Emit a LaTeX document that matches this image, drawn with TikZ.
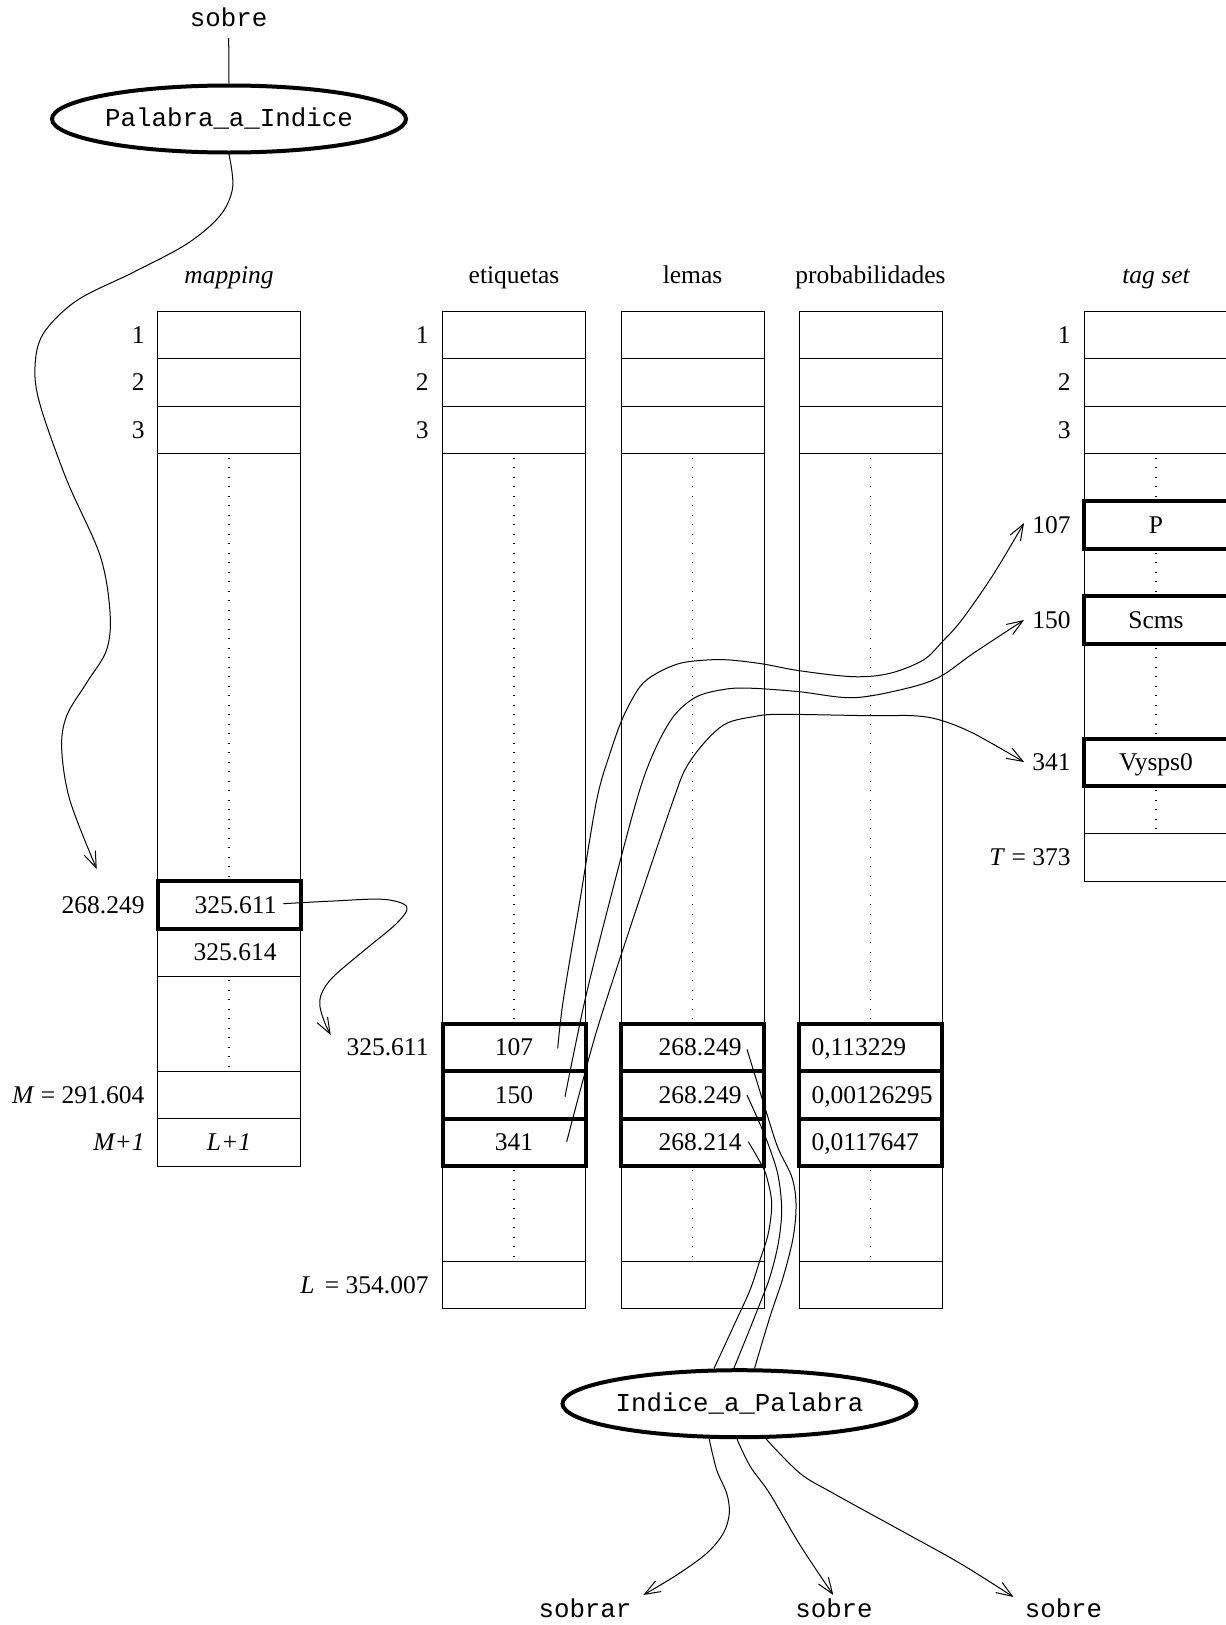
\documentclass[tikz,border=0pt]{standalone}
\usepackage{fontspec}
\setmainfont{Liberation Serif}
\setmonofont{Liberation Mono}
\usetikzlibrary{shapes.geometric,arrows.meta}
\newcommand\fsz{\fontsize{25.5pt}{30pt}\selectfont}
\newcommand\msz{\ttfamily\fontsize{25.8pt}{30pt}\selectfont}
\begin{document}
\begin{tikzpicture}[x=1pt,y=-1pt,line width=1pt,
  >={Straight Barb[length=16pt,width=12pt]},
  thk/.style={line width=4pt},
  dotln/.style={line width=1.3pt,dash pattern=on 1.3pt off 8.2pt,dash phase=-4pt},
  lab/.style={font=\fsz,inner sep=0pt,text height=17pt,text depth=0pt},
  itlab/.style={lab,font=\fsz\itshape},
  monolab/.style={font=\msz,inner sep=0pt,text height=15pt,text depth=0pt},
  ell/.style={ellipse,draw,line width=4pt,minimum width=354pt,minimum height=67pt,inner sep=0pt,font=\msz,text height=15pt,text depth=0pt},
  conn/.style={line width=1pt},
  arr/.style={conn,->},
  sm/.style={smooth,tension=0.55}]
\useasboundingbox (0,0) rectangle (1226,1625);
\clip (0,0) rectangle (1226,1625);

% ---------- mapping column ----------
\draw (157.5,311) rectangle (300.5,1166);
\foreach \y in {358.5,406,453.5,976,1071,1118.5} \draw (157.5,\y) -- (300.5,\y);
\draw[dotln] (229,453.5) -- (229,881);
\draw[dotln] (229,976) -- (229,1071);
\draw[thk] (157.5,881) rectangle (300.5,928.5);

% ---------- etiquetas, lemas, probabilidades ----------
\foreach \xl in {442.5,621,799}{
  \draw (\xl,311) rectangle ++(143,997.5);
  \foreach \y in {358.5,406,453.5,1261} \draw (\xl,\y) -- ++(143,0);
  \draw[dotln] (\xl+71.5,453.5) -- (\xl+71.5,1023.5);
  \draw[dotln] (\xl+71.5,1166) -- (\xl+71.5,1261);
  \foreach \y in {1023.5,1071,1118.5} \draw[thk] (\xl,\y) rectangle ++(143,47.5);
}

% ---------- tag set column ----------
\draw (1084,311) rectangle (1228,881);
\foreach \y in {358.5,406,453.5,833.5} \draw (1084,\y) -- (1228,\y);
\draw[dotln] (1156,453.5) -- (1156,501);
\draw[dotln] (1156,548.5) -- (1156,596);
\draw[dotln] (1156,643.5) -- (1156,738.5);
\draw[dotln] (1156,786) -- (1156,833.5);
\foreach \y in {501,596,738.5} \draw[thk] (1084,\y) rectangle ++(144,47.5);

% ---------- titles ----------
\node[itlab] (tmap) at (229,274.5) {mapping};
\node[lab] (teti) at (514,274.5) {etiquetas};
\node[lab] (tlem) at (692.5,274.5) {lemas};
\node[lab] (tpro) at (870.5,274.5) {probabilidades};
\node[itlab] (ttag) at (1156,274.5) {tag set};

% ---------- row labels ----------
\node[lab,anchor=east] (m1) at (145,334.75) {1};
\node[lab,anchor=east] (m2) at (145,382.25) {2};
\node[lab,anchor=east] (m3) at (145,429.75) {3};
\node[lab,anchor=east] (mw) at (145,904.75) {268.249};
\node[lab,anchor=east] (mM) at (145,1094.75) {\textit{M} = 291.604};
\node[lab,anchor=east] (mM1) at (145,1142.25) {\textit{M+1}};

\node[lab,anchor=east] (e1) at (429,334.75) {1};
\node[lab,anchor=east] (e2) at (429,382.25) {2};
\node[lab,anchor=east] (e3) at (429,429.75) {3};
\node[lab,anchor=east] (ei) at (429,1047.25) {325.611};
\node[lab,anchor=east] (eL) at (429,1284.75) {\textit{L}\hspace{4pt} = 354.007};

\node[lab,anchor=east] (g1) at (1071,334.75) {1};
\node[lab,anchor=east] (g2) at (1071,382.25) {2};
\node[lab,anchor=east] (g3) at (1071,429.75) {3};
\node[lab,anchor=east] (g107) at (1071,524.75) {107};
\node[lab,anchor=east] (g150) at (1071,619.75) {150};
\node[lab,anchor=east] (g341) at (1071,762.25) {341};
\node[lab,anchor=east] (gT) at (1071,857.25) {\textit{T} = 373};

% ---------- cell contents ----------
\node[lab,anchor=east] (mv1) at (277,904.75) {325.611};
\node[lab,anchor=east] (mv2) at (277,952.25) {325.614};
\node[itlab] (mv3) at (229,1142.25) {L+1};

\node[lab] (et1) at (514,1047.25) {107};
\node[lab] (et2) at (514,1094.75) {150};
\node[lab] (et3) at (514,1142.25) {341};

\node[lab,anchor=east] (le1) at (742,1047.25) {268.249};
\node[lab,anchor=east] (le2) at (742,1094.75) {268.249};
\node[lab,anchor=east] (le3) at (742,1142.25) {268.214};

\node[lab,anchor=west] (pr1) at (811,1047.25) {0,113229};
\node[lab,anchor=west] (pr2) at (811,1094.75) {0,00126295};
\node[lab,anchor=west] (pr3) at (811,1142.25) {0,0117647};

\node[lab] (tgP) at (1156,524.75) {P};
\node[lab] (tgS) at (1156,619.75) {Scms};
\node[lab] (tgV) at (1156,762.25) {Vysps0};

% ---------- ellipses and words ----------
\node[monolab] (wtop) at (228.7,19.2) {sobre};
\node[ell] (pai) at (229,119) {Palabra\_a\_Indice};
\node[ell] (ipa) at (739.5,1403.7) {Indice\_a\_Palabra};
\node[monolab] (wb1) at (585,1609.5) {sobrar};
\node[monolab] (wb2) at (834,1609.5) {sobre};
\node[monolab] (wb3) at (1063.5,1609.5) {sobre};

% ---------- connector end points ----------
\coordinate (tleft) at (96.7,869);
\coordinate (smv) at (283.3,903.7);
\coordinate (tmv) at (330.7,1035);
\coordinate (s107) at (557.7,1048.3);
\coordinate (s150) at (565,1096.7);
\coordinate (s341) at (566.7,1141.7);
\coordinate (t107) at (1024,523);
\coordinate (t150) at (1024,620);
\coordinate (t341) at (1024,762);
\coordinate (sa) at (747,1049.3);
\coordinate (sb) at (747,1095);
\coordinate (sc) at (748.3,1141.7);
\coordinate (tb1) at (643.3,1595);
\coordinate (tb2) at (833.3,1595);
\coordinate (tb3) at (1013.5,1597);

% ---------- connectors ----------
\draw[conn] ([yshift=-11pt]wtop.south) -- (pai.north);

\draw[arr] plot[sm] coordinates {(pai.south) (232.7,187.4) (220,215.7) (186.7,244) (133.3,272.3) (76.7,300.6) (43.3,333.6) (35,366.7) (40,404.4) (66.7,479.9) (100,555.3) (110,612) (106.7,649.7) (86.7,682.7) (66.7,715.7) (61.7,748.7) (70,800.6) (tleft)};

\draw[arr] plot[sm] coordinates {(smv) (333.3,901) (383.3,899.3) (406.7,906.7) (396.7,923.3) (366.7,948.3) (333.3,976.7) (321.7,993.3) (320,1006.7) (325,1023.3) (tmv)};

\draw[arr] plot[sm] coordinates {(s107) (563.3,1000) (580,900) (596.7,800) (610,753.3) (623.3,716.7) (640,686.7) (656.7,673.3) (680,663.3) (706.7,660) (730,660) (763.3,664) (799.3,670.7) (853.3,676.7) (890,673.3) (923.3,660) (942,642) (961.7,620) (993,575) (t107)};

\draw[arr] plot[sm] coordinates {(s150) (585,1000) (610,900) (636.7,800) (653.3,753.3) (673.3,716.7) (696.7,696.7) (726.7,689) (753.3,688.3) (799.3,691.7) (853.3,697.7) (906.7,688.3) (940,676.7) (973.3,653.3) (t150)};

\draw[arr] plot[sm] coordinates {(s341) (583,1080) (600,1020) (636,910) (673.3,800) (686.7,766.7) (706.7,740) (726.7,723.3) (753.3,716.7) (780,714.3) (870.7,715.7) (913.3,715.7) (940,720) (973.3,733.3) (t341)};

\draw[conn] plot[sm] coordinates {(sa) (766.7,1113.3) (778,1148) (791.7,1176.7) (796,1203.3) (793.3,1236.7) (783.3,1276.7) (770,1316.7) (ipa.67)};
\draw[conn] plot[sm] coordinates {(sb) (761.7,1128) (771,1152) (778.3,1176.7) (781.7,1210) (778.3,1243.3) (770,1276.7) (760,1303.3) (746.7,1336.7) (ipa.99)};
\draw[conn] plot[sm] coordinates {(sc) (761.7,1165) (767,1178) (771.7,1203.3) (768.3,1233.3) (760,1260) (750,1290) (733.3,1326.7) (ipa.126)};

\draw[arr] plot[sm] coordinates {(ipa.229) (716.7,1470) (726.7,1493.3) (729.3,1513.3) (723.3,1533.3) (706.7,1553.3) (676.7,1575) (tb1)};
\draw[arr] plot[sm] coordinates {(ipa.266) (750,1466) (770,1494) (800,1545) (tb2)};
\draw[arr] plot[sm] coordinates {(ipa.307) (800,1473.3) (833.3,1493.3) (900,1530) (960,1563.3) (tb3)};
\end{tikzpicture}
\end{document}
